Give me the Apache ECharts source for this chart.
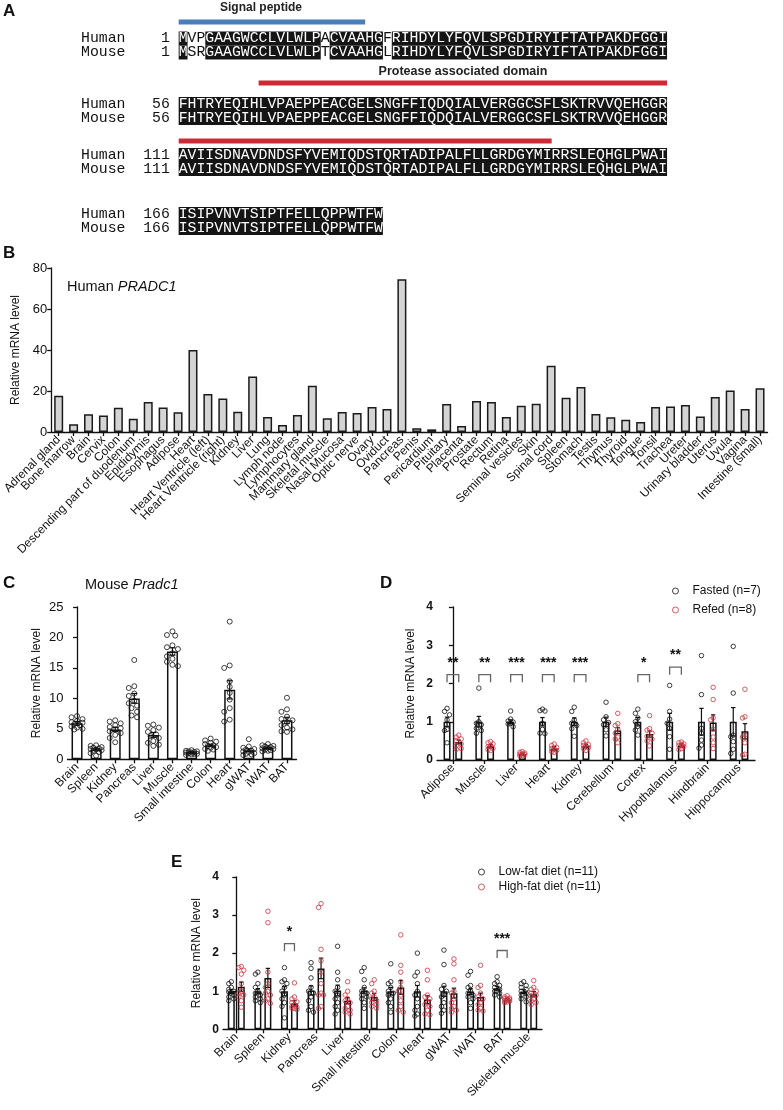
<!DOCTYPE html>
<html><head><meta charset="utf-8">
<script src="https://cdn.jsdelivr.net/npm/echarts@6/dist/echarts.min.js"></script>
<style>html,body{margin:0;padding:0;background:#fff}#c{width:783px;height:1110px}</style>
</head><body><div id="c"></div>
<script>
// ================= DATA =================
// Panel A: sequence alignment
const seqHuman = ['MVPGAAGWCCLVLWLPACVAAHGFRIHDYLYFQVLSPGDIRYIFTATPAKDFGGI',
  'FHTRYEQIHLVPAEPPEACGELSNGFFIQDQIALVERGGCSFLSKTRVVQEHGGR',
  'AVIISDNAVDNDSFYVEMIQDSTQRTADIPALFLLGRDGYMIRRSLEQHGLPWAI',
  'ISIPVNVTSIPTFELLQPPWTFW'];
const seqMouse = ['MSRGAAGWCCLVLWLPTCVAAHGLRIHDYLYFQVLSPGDIRYIFTATPAKDFGGI',
  'FHTRYEQIHLVPAEPPEACGELSNGFFIQDQIALVERGGCSFLSKTRVVQEHGGR',
  'AVIISDNAVDNDSFYVEMIQDSTQRTADIPALFLLGRDGYMIRRSLEQHGLPWAI',
  'ISIPVNVTSIPTFELLQPPWTFW'];
const seqStart = [1, 56, 111, 166];
const signalPeptide = [1, 21];
const proteaseDomain = [65, 152];

// Panel B: human PRADC1
const B_cats = ['Adrenal gland','Bone marrow','Brain','Cervix','Colon','Descending part of duodenum','Epididymis','Esophagus','Adipose','Heart','Heart Ventricle (left)','Heart Ventricle (right)','Kidney','Liver','Lung','Lymph node','Lymphocytes','Mammary gland','Skeletal muscle','Nasal Mucosa','Optic nerve','Ovary','Oviduct','Pancreas','Penis','Pericardium','Pituitary','Placenta','Prostate','Rectum','Retina','Seminal vesicles','Skin','Spinal cord','Spleen','Stomach','Testis','Thymus','Thyroid','Tongue','Tonsil','Trachea','Ureter','Urinary bladder','Uterus','Uvula','Vagina','Intestine (small)'];
const B_vals = [17.7,3.8,8.7,8.0,11.8,6.5,14.6,11.9,9.6,40.0,18.5,16.3,9.9,27.1,7.3,3.4,8.3,22.6,6.7,9.8,9.3,12.2,11.2,74.5,1.8,1.3,13.7,2.9,15.1,14.6,7.3,12.8,13.8,32.3,16.7,22.0,8.8,7.2,6.0,4.9,12.2,12.4,13.2,7.6,17.1,20.3,11.2,21.3];
const B_yTicks = [0, 20, 40, 60, 80];

// Panel C: mouse Pradc1
const C_cats = ['Brain','Spleen','Kidney','Pancreas','Liver','Muscle','Small intestine','Colon','Heart','gWAT','iWAT','BAT'];
const C_mean = [5.9,1.6,4.9,10.0,4.0,17.7,1.15,2.3,11.4,1.5,1.85,6.4];
const C_sem  = [0.3,0.15,0.35,0.8,0.4,0.6,0.08,0.18,1.5,0.22,0.12,0.5];
const C_pts = [
  [7.1,6.9,6.6,6.3,6.0,5.8,5.6,5.4,5.2,5.0,4.9,6.1],
  [2.3,2.2,2.0,1.9,1.8,1.7,1.6,1.5,1.4,1.2,1.0,0.6],
  [6.4,6.2,5.9,5.6,5.3,5.1,4.9,4.6,4.3,4.0,3.5,2.8],
  [16.3,12.0,11.7,10.8,10.4,9.6,9.2,8.8,8.4,7.8,7.2,6.9],
  [5.7,5.5,5.2,4.8,4.5,4.1,3.8,3.5,3.0,2.7,2.4,2.2],
  [21.0,20.4,20.3,18.7,18.4,18.1,17.4,16.9,16.5,16.0,15.5,15.3],
  [1.5,1.4,1.3,1.3,1.2,1.1,1.1,1.0,0.9,0.9,0.8,0.7],
  [3.4,3.1,2.9,2.7,2.5,2.3,2.2,2.0,1.9,1.7,1.6,1.4],
  [22.6,15.4,15.0,12.8,11.9,10.9,9.8,8.4,7.8,6.5,6.2],
  [3.3,2.1,1.9,1.7,1.6,1.4,1.3,1.2,1.0,0.9,0.8,0.7],
  [2.5,2.3,2.2,2.1,2.0,1.9,1.8,1.7,1.6,1.5,1.4,1.3],
  [10.1,8.2,7.8,7.0,6.6,6.4,6.1,5.6,5.2,4.9,4.6,4.5]];

// Panel D: fasted vs refed
const D_cats = ['Adipose','Muscle','Liver','Heart','Kidney','Cerebellum','Cortex','Hypothalamus','Hindbrain','Hippocampus'];
const D_fastMean = [1.0,1.0,1.0,1.0,1.0,1.0,1.0,1.0,1.0,1.0];
const D_fastSem  = [0.12,0.14,0.05,0.11,0.1,0.12,0.11,0.22,0.35,0.37];
const D_refMean  = [0.47,0.36,0.16,0.30,0.37,0.77,0.68,0.38,0.98,0.75];
const D_refSem   = [0.05,0.04,0.02,0.05,0.04,0.08,0.08,0.04,0.2,0.2];
const D_fastPts = [
  [1.35,1.27,1.18,1.05,0.8,0.77,0.45],
  [1.88,1.0,0.96,0.92,0.83,0.77,0.7],
  [1.28,1.07,1.02,0.99,0.96,0.94,0.87],
  [1.33,1.29,1.28,0.96,0.8,0.7,0.69],
  [1.38,1.27,1.05,0.96,0.9,0.82,0.62],
  [1.51,1.13,1.05,0.98,0.92,0.79,0.63],
  [1.33,1.22,1.1,1.0,0.88,0.78,0.65],
  [1.95,1.27,1.07,0.96,0.83,0.61,0.28],
  [2.73,1.71,0.83,0.7,0.52,0.39,0.31],
  [2.97,1.75,0.65,0.61,0.48,0.28,0.17]];
const D_refPts = [
  [0.65,0.6,0.55,0.5,0.42,0.38,0.3,0.28],
  [0.48,0.45,0.42,0.38,0.35,0.3,0.27,0.25],
  [0.22,0.2,0.18,0.16,0.15,0.14,0.12,0.11],
  [0.42,0.38,0.33,0.3,0.28,0.25,0.22,0.2],
  [0.5,0.45,0.4,0.38,0.35,0.32,0.3,0.25],
  [1.22,0.95,0.9,0.8,0.7,0.6,0.55,0.45],
  [1.16,0.82,0.78,0.7,0.62,0.55,0.5,0.37],
  [0.47,0.45,0.42,0.4,0.38,0.35,0.3,0.27],
  [1.9,1.58,1.1,1.05,0.8,0.6,0.45,0.3],
  [1.85,1.13,1.1,0.65,0.6,0.45,0.15,0.13]];
const D_sig    = ['**','**','***','***','***','','*','**','',''];
const D_sigLeg = [2.03,2.03,2.03,2.03,2.03,0,2.03,2.23,0,0];

// Panel E: low-fat vs high-fat diet
const E_cats = ['Brain','Spleen','Kidney','Pancreas','Liver','Small intestine','Colon','Heart','gWAT','iWAT','BAT','Skeletal muscle'];
const E_lfMean = [0.99,1.0,1.0,1.02,1.02,1.02,1.0,1.0,1.0,0.99,1.08,0.99];
const E_lfSem  = [0.05,0.07,0.12,0.12,0.14,0.07,0.1,0.15,0.13,0.08,0.05,0.05];
const E_hfMean = [1.12,1.35,0.68,1.6,0.75,0.85,1.1,0.78,0.95,0.85,0.78,0.92];
const E_hfSem  = [0.12,0.25,0.07,0.27,0.08,0.09,0.18,0.1,0.13,0.1,0.03,0.07];
const E_lfPts = [
  [1.25,1.2,1.1,1.05,1.0,0.98,0.95,0.9,0.85,0.8,0.75],
  [1.5,1.45,1.2,1.1,1.0,0.95,0.9,0.85,0.8,0.75,0.7],
  [1.62,1.3,1.25,1.2,1.1,1.0,0.9,0.8,0.7,0.6,0.3],
  [1.75,1.6,1.35,1.1,1.0,0.95,0.85,0.75,0.6,0.5,0.45],
  [2.18,1.5,1.3,1.1,1.0,0.9,0.8,0.7,0.6,0.5,0.4],
  [1.62,1.52,1.3,1.1,1.0,0.95,0.9,0.85,0.8,0.7,0.55],
  [1.72,1.25,1.2,1.1,1.0,0.95,0.9,0.8,0.7,0.6,0.45],
  [2.0,1.5,1.4,1.2,1.0,0.9,0.8,0.6,0.5,0.4,0.35],
  [2.08,1.7,1.15,1.05,1.0,0.9,0.85,0.7,0.6,0.5,0.42],
  [1.52,1.42,1.15,1.1,1.0,0.95,0.9,0.85,0.8,0.7,0.55],
  [1.38,1.25,1.2,1.15,1.1,1.05,1.0,1.0,0.95,0.9,0.85],
  [1.25,1.2,1.15,1.1,1.05,1.0,0.95,0.9,0.85,0.8,0.72]];
const E_hfPts = [
  [1.65,1.62,1.55,1.45,1.2,1.0,0.95,0.9,0.85,0.75,0.58],
  [3.1,2.8,1.5,1.2,1.1,1.0,0.95,0.9,0.8,0.75,0.68],
  [1.22,0.85,0.8,0.72,0.7,0.65,0.6,0.58,0.55,0.55,0.52],
  [3.3,3.2,2.1,1.8,1.5,1.2,0.95,0.9,0.9,0.6,0.55],
  [1.25,1.0,0.9,0.8,0.75,0.7,0.6,0.55,0.5,0.45,0.4],
  [1.3,1.2,1.0,0.95,0.85,0.8,0.75,0.7,0.65,0.6,0.55],
  [2.48,1.68,1.5,1.25,1.1,1.0,0.9,0.75,0.6,0.5,0.45],
  [1.55,1.3,0.9,0.85,0.8,0.7,0.65,0.6,0.5,0.4,0.38],
  [1.85,1.72,1.3,1.0,0.95,0.8,0.7,0.6,0.55,0.5,0.45],
  [1.68,1.15,1.1,0.95,0.85,0.8,0.7,0.65,0.55,0.5,0.48],
  [0.88,0.85,0.82,0.8,0.8,0.78,0.76,0.75,0.74,0.72,0.7],
  [1.28,1.1,1.05,1.0,0.95,0.9,0.88,0.8,0.75,0.7,0.65]];
const E_sig    = ['','','*','','','','','','','','***',''];
const E_sigLeg = [0,0,2.05,0,0,0,0,0,0,0,1.87,0];

// ================= LAYOUT / STYLE =================
const SANS = "'Liberation Sans', Arial, Helvetica, sans-serif";
const MONO = "'Liberation Mono', 'Courier New', monospace";
const INK = '#111';
const RED = '#cc3340';

const G = {
  B: {left: 45.5, top: 268, width: 722, height: 164},
  C: {left: 67.5, top: 607, width: 229, height: 152.3},
  D: {left: 437, top: 607, width: 318, height: 153},
  E: {left: 223, top: 877, width: 319, height: 152.3}
};

// ---- Panel A graphics
const CW = 8.88, SEQ_X = 81;
const rowTop = [31, 96.5, 147.5, 206.5];
const rowBarY = [22, 83, 141, null];
function rowRich(s, other, name, start) {
  let str = '{n|' + name + String(start).padStart(5, ' ') + ' }';
  let i = 0;
  while (i < s.length) {
    const same = s[i] === other[i];
    let j = i;
    while (j < s.length && (s[j] === other[j]) === same) j++;
    str += '{' + (same ? 'b' : 'w') + '|' + s.slice(i, j) + '}';
    i = j;
  }
  return str;
}
const tok = {fontFamily: MONO, fontSize: 14.8, lineHeight: 14, height: 14};
const graphicEls = [];
seqHuman.forEach((h, r) => {
  const m = seqMouse[r];
  graphicEls.push({
    type: 'text', left: SEQ_X, top: rowTop[r],
    style: {
      text: rowRich(h, m, 'Human', seqStart[r]) + '\n' + rowRich(m, h, 'Mouse', seqStart[r]),
      rich: {
        n: Object.assign({fill: INK}, tok),
        w: Object.assign({fill: INK}, tok),
        b: Object.assign({fill: '#ffffff', backgroundColor: '#151515'}, tok)
      }
    }
  });
  // domain bars
  const rs = seqStart[r], re = rs + h.length - 1;
  const seqX0 = SEQ_X + 11 * CW;
  [[signalPeptide, '#4a7ebb'], [proteaseDomain, '#cc2b36']].forEach(([dom, col]) => {
    const a = Math.max(dom[0], rs), b = Math.min(dom[1], re);
    if (a <= b && rowBarY[r] != null) {
      graphicEls.push({type: 'rect', shape: {x: seqX0 + (a - rs) * CW, y: rowBarY[r] - 2.5, width: (b - a + 1) * CW, height: 5}, style: {fill: col}});
    }
  });
});
graphicEls.push({type: 'text', style: {text: 'Signal peptide', x: 261, y: 8, textAlign: 'center', textVerticalAlign: 'middle', font: 'bold 12px ' + SANS, fill: '#222'}});
graphicEls.push({type: 'text', style: {text: 'Protease associated domain', x: 463, y: 72, textAlign: 'center', textVerticalAlign: 'middle', font: 'bold 12.5px ' + SANS, fill: '#222'}});
// panel letters
[['A', 3, 11], ['B', 3, 253], ['C', 3, 583], ['D', 380, 583], ['E', 171, 862]].forEach(([t, x, y]) => {
  graphicEls.push({type: 'text', style: {text: t, x, y, textVerticalAlign: 'middle', font: 'bold 17px ' + SANS, fill: INK}});
});
graphicEls.push({type: 'text', left: 67, top: 279, style: {text: '{a|Human }{i|PRADC1}', rich: {a: {fontFamily: SANS, fontSize: 14.5, fill: INK}, i: {fontFamily: SANS, fontSize: 14.5, fontStyle: 'italic', fill: INK}}}});
graphicEls.push({type: 'text', left: 85, top: 577, style: {text: '{a|Mouse }{i|Pradc1}', rich: {a: {fontFamily: SANS, fontSize: 14.5, fill: INK}, i: {fontFamily: SANS, fontSize: 14.5, fontStyle: 'italic', fill: INK}}}});

// ---- helpers
const axLine = {show: true, lineStyle: {color: INK, width: 1.3}};
const axTick = {show: true, length: 4, lineStyle: {color: INK, width: 1.3}};
function yAx(gi, max, interval, bold, fs, nameGap) {
  return {gridIndex: gi, type: 'value', min: 0, max, interval,
    axisLine: axLine, axisTick: axTick, splitLine: {show: false},
    axisLabel: {fontSize: fs, color: INK, fontWeight: bold ? 'bold' : 'normal', margin: 4, fontFamily: SANS},
    name: 'Relative mRNA level', nameLocation: 'middle', nameGap,
    nameTextStyle: {fontSize: 12, color: INK, fontFamily: SANS}};
}
function xCat(gi, data) {
  return {gridIndex: gi, type: 'category', data,
    axisLine: axLine, axisTick: Object.assign({alignWithLabel: true}, axTick),
    axisLabel: {rotate: 45, interval: 0, fontSize: 12, color: INK, margin: 6, fontFamily: SANS}};
}
function xVal(gi, n) { return {gridIndex: gi, type: 'value', min: -0.5, max: n - 0.5, show: false}; }

function swarm(vals, pxY, maxHalf, dia) {
  const order = vals.map((v, i) => i).sort((a, b) => vals[b] - vals[a]);
  const placed = [], offs = new Array(vals.length).fill(0);
  const step = dia * 0.55, cands = [0];
  for (let k = 1; k * step <= maxHalf + 0.01; k++) cands.push(-k * step, k * step);
  for (const i of order) {
    const y = vals[i] * pxY;
    let best = 0, bestScore = -1;
    for (const c of cands) {
      let md = Infinity;
      for (const p of placed) { const d = Math.hypot(p[0] - c, p[1] - y); if (d < md) md = d; }
      if (md >= dia) { best = c; break; }
      if (md > bestScore) { bestScore = md; best = c; }
    }
    offs[i] = best; placed.push([best, y]);
  }
  return offs;
}
function dotData(ptsGroups, centerOff, pxY, bandPx, maxHalf, dia) {
  const out = [];
  ptsGroups.forEach((vals, i) => {
    const offs = swarm(vals, pxY, maxHalf, dia);
    vals.forEach((v, k) => out.push([i + centerOff + offs[k] / bandPx, v]));
  });
  return out;
}
function errSeries(xi, yi, data, cap) {
  return {type: 'custom', xAxisIndex: xi, yAxisIndex: yi, z: 5, silent: true, data,
    renderItem: (params, api) => {
      const x = api.value(0), m = api.value(1), s = api.value(2);
      const t = api.coord([x, m + s]), b = api.coord([x, Math.max(m - s, 0)]);
      const st = {stroke: INK, lineWidth: 1.2};
      return {type: 'group', children: [
        {type: 'line', shape: {x1: t[0], y1: t[1], x2: b[0], y2: b[1]}, style: st},
        {type: 'line', shape: {x1: t[0] - cap, y1: t[1], x2: t[0] + cap, y2: t[1]}, style: st},
        {type: 'line', shape: {x1: b[0] - cap, y1: b[1], x2: b[0] + cap, y2: b[1]}, style: st}
      ]};
    }};
}
function bracketSeries(xi, yi, sig, leg, off) {
  const data = [];
  sig.forEach((s, i) => { if (s) data.push([i, leg[i]]); });
  return {type: 'custom', xAxisIndex: xi, yAxisIndex: yi, z: 6, silent: true, data,
    renderItem: (params, api) => {
      const i = api.value(0), l = api.value(1);
      const a = api.coord([i - off, l]), b = api.coord([i + off, l]);
      const topY = api.coord([i, l + 0.2])[1];
      const starY = api.coord([i, l + 0.5])[1];
      const s = sig[i];
      return {type: 'group', children: [
        {type: 'polyline', shape: {points: [[a[0], a[1]], [a[0], topY], [b[0], topY], [b[0], b[1]]]}, style: {stroke: '#666', lineWidth: 1.3, fill: null}},
        {type: 'text', style: {text: s, x: (a[0] + b[0]) / 2, y: starY, textAlign: 'center', textVerticalAlign: 'middle', font: 'bold 14px ' + SANS, fill: INK}}
      ]};
    }};
}
function dotSeries(name, xi, yi, data, color, size) {
  return {type: 'scatter', name, xAxisIndex: xi, yAxisIndex: yi, z: 7, symbol: 'circle', symbolSize: size, data,
    itemStyle: {color: 'rgba(255,255,255,0)', borderColor: color, borderWidth: 1}};
}
const barStyle = {color: '#fff', borderColor: INK, borderWidth: 1.5};

// ---- geometry per panel
const C_band = G.C.width / C_cats.length, C_pxY = G.C.height / 25;
const D_band = G.D.width / D_cats.length, D_pxY = G.D.height / 4;
const E_band = G.E.width / E_cats.length, E_pxY = G.E.height / 4;
const D_bw = 7, D_offPx = 5.85, E_bw = 7, E_offPx = 5;
const D_off = D_offPx / D_band, E_off = E_offPx / E_band;

const option = {
  animation: false,
  backgroundColor: '#fff',
  textStyle: {fontFamily: SANS},
  graphic: graphicEls,
  grid: [G.B, G.C, G.D, G.E],
  legend: [
    {orient: 'vertical', left: 667, top: 580, itemWidth: 6, itemHeight: 6, itemGap: 7, selectedMode: false,
      textStyle: {fontSize: 12, color: INK, fontFamily: SANS, padding: [0, 0, 0, 9]},
      data: [{name: 'Fasted (n=7)', icon: 'circle', itemStyle: {color: 'rgba(255,255,255,0)', borderColor: INK, borderWidth: 1}},
             {name: 'Refed (n=8)', icon: 'circle', itemStyle: {color: 'rgba(255,255,255,0)', borderColor: RED, borderWidth: 1}}]},
    {orient: 'vertical', left: 473, top: 861, itemWidth: 6, itemHeight: 6, itemGap: 3, selectedMode: false,
      textStyle: {fontSize: 12, color: INK, fontFamily: SANS, padding: [0, 0, 0, 9]},
      data: [{name: 'Low-fat diet (n=11)', icon: 'circle', itemStyle: {color: 'rgba(255,255,255,0)', borderColor: INK, borderWidth: 1}},
             {name: 'High-fat diet (n=11)', icon: 'circle', itemStyle: {color: 'rgba(255,255,255,0)', borderColor: RED, borderWidth: 1}}]}
  ],
  xAxis: [xCat(0, B_cats), xCat(1, C_cats), xVal(1, C_cats.length), xCat(2, D_cats), xVal(2, D_cats.length), xCat(3, E_cats), xVal(3, E_cats.length)],
  yAxis: [
    yAx(0, B_yTicks[B_yTicks.length - 1], B_yTicks[1] - B_yTicks[0], false, 13, 25),
    yAx(1, 25, 5, false, 13, 25),
    yAx(2, 4, 1, true, 12, 20),
    yAx(3, 4, 1, true, 12, 20)
  ],
  series: [
    // B
    {type: 'bar', xAxisIndex: 0, yAxisIndex: 0, data: B_vals, barWidth: 9,
      itemStyle: {color: '#d4d4d4', borderColor: '#1a1a1a', borderWidth: 1.5}},
    // C
    {type: 'bar', xAxisIndex: 1, yAxisIndex: 1, data: C_mean, barWidth: 11, itemStyle: barStyle},
    errSeries(2, 1, C_mean.map((m, i) => [i, m, C_sem[i]]), 3),
    dotSeries('C', 2, 1, dotData(C_pts, 0, C_pxY, C_band, 5.5, 5), INK, 5),
    // D
    {type: 'bar', name: 'Fasted bar', xAxisIndex: 3, yAxisIndex: 2, data: D_fastMean, barWidth: D_bw, barGap: ((2 * D_offPx - D_bw) / D_bw * 100) + '%', itemStyle: barStyle},
    {type: 'bar', name: 'Refed bar', xAxisIndex: 3, yAxisIndex: 2, data: D_refMean, barWidth: D_bw, itemStyle: barStyle},
    errSeries(4, 2, D_fastMean.map((m, i) => [i - D_off, m, D_fastSem[i]]).concat(D_refMean.map((m, i) => [i + D_off, m, D_refSem[i]])), 2.2),
    dotSeries('Fasted (n=7)', 4, 2, dotData(D_fastPts, -D_off, D_pxY, D_band, 3.6, 4.5), INK, 4.5),
    dotSeries('Refed (n=8)', 4, 2, dotData(D_refPts, D_off, D_pxY, D_band, 3.6, 4.5), RED, 4.5),
    bracketSeries(4, 2, D_sig, D_sigLeg, D_off),
    // E
    {type: 'bar', name: 'LF bar', xAxisIndex: 5, yAxisIndex: 3, data: E_lfMean, barWidth: E_bw, barGap: ((2 * E_offPx - E_bw) / E_bw * 100) + '%', itemStyle: barStyle},
    {type: 'bar', name: 'HF bar', xAxisIndex: 5, yAxisIndex: 3, data: E_hfMean, barWidth: E_bw, itemStyle: barStyle},
    errSeries(6, 3, E_lfMean.map((m, i) => [i - E_off, m, E_lfSem[i]]).concat(E_hfMean.map((m, i) => [i + E_off, m, E_hfSem[i]])), 2.2),
    dotSeries('Low-fat diet (n=11)', 6, 3, dotData(E_lfPts, -E_off, E_pxY, E_band, 3.6, 4.5), INK, 4.5),
    dotSeries('High-fat diet (n=11)', 6, 3, dotData(E_hfPts, E_off, E_pxY, E_band, 3.6, 4.5), RED, 4.5),
    bracketSeries(6, 3, E_sig, E_sigLeg, E_off)
  ]
};
const chart = echarts.init(document.getElementById('c'));
chart.setOption(option);
</script></body></html>
